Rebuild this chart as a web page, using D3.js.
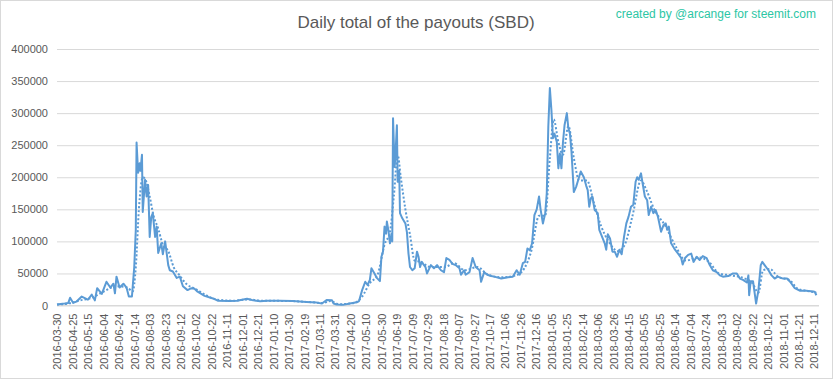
<!DOCTYPE html>
<html>
<head>
<meta charset="utf-8">
<script src="https://cdn.jsdelivr.net/npm/d3@7"></script>
<style>
  body { margin: 0; background: #fff; }
  svg { display: block; }
  text { font-family: "Liberation Sans", Arial, sans-serif; }
</style>
</head>
<body>
<svg id="chart" width="833" height="379"></svg>
<script>
// labels of the category axis (one every 20 days)
let tickLabels = [
  "2016-03-30","2016-04-25","2016-05-15","2016-06-04","2016-06-24","2016-07-14","2016-08-03","2016-08-23",
  "2016-09-12","2016-10-02","2016-10-22","2016-11-11","2016-12-01","2016-12-21","2017-01-10","2017-01-30",
  "2017-02-19","2017-03-11","2017-03-31","2017-04-20","2017-05-10","2017-05-30","2017-06-19","2017-07-09",
  "2017-07-29","2017-08-18","2017-09-07","2017-09-27","2017-10-17","2017-11-06","2017-11-26","2017-12-16",
  "2018-01-05","2018-01-25","2018-02-14","2018-03-06","2018-03-26","2018-04-15","2018-05-05","2018-05-25",
  "2018-06-14","2018-07-04","2018-07-24","2018-08-13","2018-09-02","2018-09-22","2018-10-12","2018-11-01",
  "2018-11-21","2018-12-11"
];

// daily payouts (SBD)
let payoutDates = [
  "2016-03-30","2016-04-05","2016-04-12","2016-04-18","2016-04-21","2016-04-26","2016-04-30","2016-05-07",
  "2016-05-15","2016-05-20","2016-05-24","2016-05-27","2016-06-02","2016-06-08","2016-06-13","2016-06-17",
  "2016-06-19","2016-06-21","2016-06-25","2016-06-30","2016-07-04","2016-07-07","2016-07-11","2016-07-14",
  "2016-07-16","2016-07-17","2016-07-19","2016-07-21","2016-07-22","2016-07-24","2016-07-25","2016-07-28",
  "2016-07-30","2016-08-01","2016-08-03","2016-08-05","2016-08-07","2016-08-10","2016-08-12","2016-08-14",
  "2016-08-18","2016-08-20","2016-08-23","2016-08-27","2016-08-29","2016-09-02","2016-09-07","2016-09-11",
  "2016-09-15","2016-09-21","2016-09-26","2016-09-30","2016-10-04","2016-10-13","2016-10-24","2016-10-30",
  "2016-11-15","2016-11-24","2016-12-07","2016-12-15","2016-12-24","2017-01-02","2017-01-18","2017-02-04",
  "2017-02-22","2017-03-07","2017-03-14","2017-03-20","2017-03-27","2017-03-29","2017-04-02","2017-04-10",
  "2017-04-19","2017-04-28","2017-05-01","2017-05-05","2017-05-09","2017-05-12","2017-05-15","2017-05-17",
  "2017-05-21","2017-05-24","2017-05-28","2017-05-30","2017-06-01","2017-06-03","2017-06-05","2017-06-06",
  "2017-06-08","2017-06-10","2017-06-12","2017-06-13","2017-06-14","2017-06-16","2017-06-17","2017-06-19",
  "2017-06-20","2017-06-22","2017-06-23","2017-06-26","2017-06-30","2017-07-02","2017-07-04","2017-07-06",
  "2017-07-09","2017-07-12","2017-07-15","2017-07-17","2017-07-19","2017-07-21","2017-07-26","2017-07-28",
  "2017-08-02","2017-08-06","2017-08-10","2017-08-15","2017-08-19","2017-08-22","2017-08-26","2017-08-30",
  "2017-09-03","2017-09-08","2017-09-10","2017-09-14","2017-09-16","2017-09-21","2017-09-25","2017-09-29",
  "2017-10-04","2017-10-06","2017-10-10","2017-10-14","2017-10-19","2017-10-23","2017-11-01","2017-11-10",
  "2017-11-16","2017-11-21","2017-11-25","2017-11-29","2017-12-02","2017-12-05","2017-12-08","2017-12-11",
  "2017-12-14","2017-12-17","2017-12-20","2017-12-22","2017-12-25","2017-12-28","2017-12-30","2018-01-01",
  "2018-01-03","2018-01-05","2018-01-07","2018-01-09","2018-01-12","2018-01-14","2018-01-16","2018-01-18",
  "2018-01-20","2018-01-22","2018-01-25","2018-01-27","2018-01-29","2018-01-31","2018-02-03","2018-02-06",
  "2018-02-08","2018-02-12","2018-02-16","2018-02-19","2018-02-21","2018-02-23","2018-02-25","2018-02-27",
  "2018-03-02","2018-03-06","2018-03-08","2018-03-11","2018-03-15","2018-03-17","2018-03-19","2018-03-22",
  "2018-03-25","2018-03-28","2018-03-31","2018-04-03","2018-04-06","2018-04-09","2018-04-12","2018-04-15",
  "2018-04-18","2018-04-21","2018-04-24","2018-04-26","2018-04-28","2018-05-01","2018-05-03","2018-05-06",
  "2018-05-09","2018-05-11","2018-05-14","2018-05-17","2018-05-20","2018-05-23","2018-05-27","2018-05-30",
  "2018-06-02","2018-06-04","2018-06-06","2018-06-09","2018-06-14","2018-06-18","2018-06-22","2018-06-24",
  "2018-06-27","2018-07-01","2018-07-05","2018-07-08","2018-07-12","2018-07-16","2018-07-20","2018-07-25",
  "2018-07-29","2018-08-02","2018-08-07","2018-08-11","2018-08-15","2018-08-22","2018-08-28","2018-09-02",
  "2018-09-06","2018-09-10","2018-09-15","2018-09-17","2018-09-18","2018-09-20","2018-09-23","2018-09-27",
  "2018-09-30","2018-10-03","2018-10-05","2018-10-08","2018-10-13","2018-10-17","2018-10-21","2018-10-25",
  "2018-11-01","2018-11-06","2018-11-10","2018-11-16","2018-11-23","2018-12-01","2018-12-10","2018-12-12",
  "2018-12-14"
];
let payoutValues = [
  1500,2500,3000,4000,12000,4000,6000,14000,
  9000,17000,8000,27000,18000,37000,28000,34000,
  19000,45000,28000,34000,28000,14000,14000,60000,
  118000,254000,207000,222000,210000,235000,146000,196000,
  170000,188000,107000,138000,144000,107000,123000,82000,
  97000,80000,100000,63000,55000,53000,43000,45000,
  30000,24000,27000,26000,21500,15000,11000,7500,
  7000,7500,10500,8000,6500,7500,7500,7000,
  5500,4500,3000,8500,8000,3000,1500,1000,
  3000,5000,7000,24000,37000,32000,40000,58000,
  50000,43000,38000,76000,84000,123000,112000,131000,
  117000,97000,112000,100000,292000,216000,232000,281000,
  193000,210000,144000,136000,128000,114000,81000,60000,
  55000,58000,84000,76000,60000,68000,60000,50000,
  63000,58000,63000,55000,52000,74000,71000,65000,
  63000,58000,48000,55000,48000,52000,74000,60000,
  55000,37000,52000,48000,46000,45000,42000,44000,
  45000,55000,48000,66000,68000,89000,86000,97000,
  141000,150000,170000,150000,128000,144000,175000,279000,
  339000,305000,261000,268000,255000,214000,237000,214000,
  255000,281000,300000,276000,268000,240000,177000,185000,
  193000,209000,200000,187000,180000,154000,167000,170000,
  149000,144000,118000,109000,97000,87000,111000,104000,
  84000,84000,76000,87000,80000,107000,128000,139000,
  154000,157000,193000,200000,196000,206000,191000,170000,
  164000,141000,154000,144000,149000,138000,115000,125000,
  128000,118000,123000,97000,87000,81000,74000,64000,
  74000,79000,81000,68000,76000,71000,77000,74000,
  63000,55000,52000,47000,45000,46000,50000,50000,
  42000,40000,36000,47000,16000,38000,38000,3000,
  24000,63000,68000,63000,55000,47000,42000,45000,
  42000,42000,37000,27000,23000,23000,22000,21000,
  16000
];

// dotted trend line
let trendDates = [
  "2016-03-30","2016-04-20","2016-05-05","2016-05-20","2016-06-05","2016-06-20","2016-07-05","2016-07-12",
  "2016-07-16","2016-07-20","2016-07-25","2016-07-29","2016-08-03","2016-08-08","2016-08-14","2016-08-20",
  "2016-08-27","2016-09-03","2016-09-10","2016-09-20","2016-10-01","2016-10-15","2016-10-30","2016-11-20",
  "2016-12-10","2016-12-25","2017-02-01","2017-03-01","2017-03-15","2017-03-25","2017-04-05","2017-04-25",
  "2017-05-05","2017-05-15","2017-05-25","2017-06-03","2017-06-10","2017-06-15","2017-06-20","2017-06-24",
  "2017-06-30","2017-07-06","2017-07-12","2017-07-20","2017-08-01","2017-08-20","2017-09-01","2017-09-15",
  "2017-10-01","2017-10-15","2017-11-01","2017-11-20","2017-12-01","2017-12-10","2017-12-20","2017-12-28",
  "2018-01-03","2018-01-08","2018-01-14","2018-01-20","2018-01-27","2018-02-03","2018-02-10","2018-02-20",
  "2018-03-01","2018-03-10","2018-03-20","2018-04-01","2018-04-10","2018-04-20","2018-05-01","2018-05-08",
  "2018-05-18","2018-06-01","2018-06-15","2018-06-28","2018-07-15","2018-07-28","2018-08-10","2018-08-25",
  "2018-09-10","2018-09-22","2018-09-30","2018-10-06","2018-10-15","2018-10-25","2018-11-10","2018-11-20",
  "2018-12-01","2018-12-14"
];
let trendValues = [
  1500,3500,8000,12000,22000,30000,28000,22000,
  60000,150000,200000,195000,170000,140000,120000,95000,
  85000,60000,48000,33000,26000,16000,9000,7500,
  9500,7500,7000,5000,4000,7000,2000,4000,
  14000,35000,48000,95000,115000,170000,235000,200000,
  150000,110000,70000,68000,60000,60000,66000,55000,
  60000,48000,44000,47000,58000,85000,140000,140000,
  230000,290000,255000,235000,280000,230000,195000,195000,
  160000,125000,100000,85000,95000,140000,195000,180000,
  150000,125000,92000,70000,75000,68000,50000,47000,
  43000,35000,20000,55000,57000,45000,39000,26000,
  23000,20000
];

var svg = d3.select("#chart");
var W = 833, H = 379;
var parse = d3.utcParse("%Y-%m-%d");

// 外框
svg.append("rect")
  .attr("x", 0.5).attr("y", 0.5)
  .attr("width", W - 1).attr("height", H - 1)
  .attr("fill", "#fff").attr("stroke", "#d9d9d9");

// 標題
svg.append("text")
  .attr("x", 416).attr("y", 28)
  .attr("text-anchor", "middle")
  .style("font-size", "17px")
  .style("fill", "#595959")
  .text("Daily total of the payouts (SBD)");

svg.append("text")
  .attr("x", 816).attr("y", 18)
  .attr("text-anchor", "end")
  .style("font-size", "12px")
  .style("fill", "#2cc6a4")
  .text("created by @arcange for steemit.com");

// x: category axis, first gap of the data is squeezed like in the original
var x = d3.scaleUtc()
  .domain([parse("2016-03-30"), parse("2016-04-25"), parse("2018-12-14")])
  .range([57, 72.45, 72.45 + 963 * 0.7725]);

var y = d3.scaleLinear().domain([0, 400000]).range([305.5, 49]);

// 格線 + y 軸
var yAxis = svg.append("g")
  .attr("transform", "translate(57,0)")
  .call(d3.axisLeft(y).tickValues(d3.range(0, 400001, 50000)).tickSize(-762).tickPadding(9).tickFormat(d3.format("d")));
yAxis.select(".domain").remove();
yAxis.selectAll("line").attr("stroke", "#d9d9d9");
yAxis.selectAll("text").style("font-size", "11px").style("fill", "#595959").style("font-family", "Liberation Sans, Arial, sans-serif");

// x 軸
var xAxis = svg.append("g")
  .attr("transform", "translate(0,305.5)")
  .call(d3.axisBottom(x).tickValues(tickLabels.map(parse)).tickSize(0).tickFormat(d3.utcFormat("%Y-%m-%d")));
xAxis.select(".domain").attr("stroke", "#d9d9d9").attr("d", "M57,0H819");
xAxis.selectAll("text")
  .attr("transform", "rotate(-90)")
  .attr("text-anchor", "end")
  .attr("x", -8).attr("y", 0).attr("dy", "0.35em")
  .style("font-size", "11px").style("fill", "#595959")
  .style("font-family", "Liberation Sans, Arial, sans-serif");

// 折線
var line = d3.line()
  .x(d => x(d[0]))
  .y(d => y(d[1]));

var payouts = payoutDates.map((d, i) => [parse(d), payoutValues[i]]);
var trend = trendDates.map((d, i) => [parse(d), trendValues[i]]);

svg.append("path")
  .datum(trend)
  .attr("fill", "none")
  .attr("stroke", "#5b9bd5")
  .attr("stroke-width", 2)
  .attr("stroke-dasharray", "2,2")
  .attr("d", line.curve(d3.curveMonotoneX));

svg.append("path")
  .datum(payouts)
  .attr("fill", "none")
  .attr("stroke", "#5b9bd5")
  .attr("stroke-width", 2)
  .attr("stroke-linejoin", "round")
  .attr("d", line.curve(d3.curveLinear));
</script>
</body>
</html>
